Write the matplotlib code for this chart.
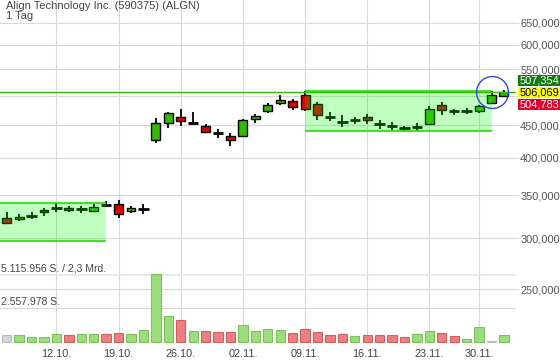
import math
import matplotlib
matplotlib.use('Agg')
import matplotlib.pyplot as plt
from matplotlib.patches import Rectangle
from matplotlib.ticker import FixedLocator, NullLocator, FuncFormatter
import matplotlib.transforms as mtransforms

plt.rcParams['font.family'] = ['Liberation Sans', 'DejaVu Sans']

# ---------------- data ----------------
title = "Align Technology Inc. (590375) (ALGN)"
period = "1 Tag"

dates = ['06.10.', '07.10.', '08.10.', '09.10.', '12.10.', '13.10.', '14.10.', '15.10.', '16.10.',
         '19.10.', '20.10.', '21.10.', '22.10.', '23.10.', '26.10.', '27.10.', '28.10.', '29.10.',
         '30.10.', '02.11.', '03.11.', '04.11.', '05.11.', '06.11.', '09.11.', '10.11.', '11.11.',
         '12.11.', '13.11.', '16.11.', '17.11.', '18.11.', '19.11.', '20.11.', '23.11.', '24.11.',
         '25.11.', '27.11.', '30.11.', '01.12.', '02.12.']

opens = [322.2, 321.1, 325.2, 332.0, 334.7, 334.0, 332.8, 330.4, 337.6, 338.8, 330.8, 332.8,
         426.1, 452.9, 462.7, 453.9, 448.6, 437.1, 432.3, 433.2, 460.4, 473.9, 487.6, 490.6,
         500.9, 484.8, 463.2, 455.5, 458.8, 462.7, 451.3, 448.0, 444.6, 446.5, 452.3, 483.1,
         472.8, 473.9, 473.9, 487.1, 498.9]
closes = [316.5, 323.7, 325.2, 329.6, 334.7, 331.6, 332.8, 335.5, 337.6, 326.8, 334.0, 332.8,
          452.9, 469.4, 456.2, 453.9, 439.5, 437.1, 427.1, 458.3, 464.9, 483.6, 491.8, 480.2,
          477.2, 466.6, 463.2, 455.5, 458.8, 458.3, 451.3, 448.0, 444.6, 446.5, 476.8, 475.5,
          472.8, 473.9, 481.3, 501.8, 506.069]
highs = [329.2, 327.2, 329.2, 334.0, 340.0, 337.1, 336.7, 338.8, 342.8, 344.0, 337.1, 338.8,
         461.1, 472.2, 476.2, 471.1, 451.8, 443.7, 437.4, 460.0, 468.3, 487.1, 500.7, 494.1,
         508.5, 488.3, 471.1, 466.6, 463.8, 467.7, 458.3, 454.5, 449.0, 453.4, 481.3, 488.8,
         477.2, 478.5, 484.1, 508.0, 510.9]
lows = [315.4, 319.1, 321.1, 325.2, 329.9, 329.2, 328.8, 329.2, 335.5, 322.2, 328.0, 326.8,
        422.5, 444.8, 448.6, 451.3, 438.5, 429.3, 417.1, 430.7, 453.4, 470.0, 484.1, 475.5,
        474.1, 458.3, 456.7, 447.4, 451.3, 451.3, 443.7, 442.2, 440.1, 440.1, 449.7, 467.1,
        467.1, 468.3, 470.0, 485.4, 497.1]

volumes = [529000, 484000, 333000, 355000, 582000, 506000, 559000, 605000, 559000, 657000,
           559000, 861000, 5115956, 1965000, 1617000, 786000, 786000, 756000, 756000, 1239000,
           786000, 937000, 861000, 657000, 937000, 733000, 529000, 605000, 408000, 484000,
           506000, 506000, 378000, 559000, 809000, 635000, 408000, 204000, 1088000, 20000, 529000]
vol_dir = ['flat', 'up', 'up', 'up', 'up', 'down', 'up', 'up', 'down', 'down',
           'up', 'up', 'up', 'up', 'down', 'up', 'down', 'down', 'down', 'up',
           'up', 'up', 'up', 'down', 'down', 'down', 'down', 'down', 'up', 'down',
           'down', 'down', 'down', 'up', 'up', 'down', 'down', 'up', 'up', 'flat', 'up']
vol_max = 5115956
vol_max_label = "5.115.956 S. / 2,3 Mrd."
vol_half_label = "2.557.978 S."

week_labels = ['12.10.', '19.10.', '26.10.', '02.11.', '09.11.', '16.11.', '23.11.', '30.11.']
price_ticks = [250, 300, 350, 400, 450, 500, 550, 600, 650]

# zones (start index, end index, low price, high price)
zone1 = (-1.0, 8, 297.0, 340.7)
zone2 = (24, 39, 440.6, 508.5)

ask_price = 507.354
last_price = 506.069
bid_price = 504.783
marked_index = 39

# ---------------- style ----------------
W, H = 560, 362
GREEN = '#36b800'
RED = '#dd0000'
GRID = '#d8d8d8'
TXT = '#444444'

fig = plt.figure(figsize=(W / 100, H / 100), dpi=100)
fig.patch.set_facecolor('white')

plot_bottom_px = 341.7
rect_price = [0, (H - plot_bottom_px) / H, 516 / W, plot_bottom_px / H]
rect_vol = [0, (H - plot_bottom_px) / H, 516 / W, 67.7 / H]

ax = fig.add_axes(rect_price)
ax.set_zorder(1)
ax.patch.set_alpha(0)
ax.set_yscale('log')
ax.set_xlim(-0.54, 40.97)
ax.set_ylim(207.0, 704.6)
for s in ax.spines.values():
    s.set_visible(False)

x = list(range(len(dates)))


def price_fmt(v, pos):
    # labels hidden behind the price tags are left out
    if abs(math.log(v / last_price)) < 0.03:
        return ''
    return f"{v:.3f}".replace('.', ',')


# grid
tick_idx = [dates.index(d) for d in week_labels]
ax.xaxis.set_major_locator(FixedLocator(tick_idx))
ax.set_xticklabels(week_labels)
ax.yaxis.set_major_locator(FixedLocator(price_ticks))
ax.yaxis.set_minor_locator(NullLocator())
ax.yaxis.set_major_formatter(FuncFormatter(price_fmt))
ax.yaxis.tick_right()
ax.tick_params(axis='x', length=0, pad=5, labelsize=7.8, labelcolor=TXT)
ax.tick_params(axis='y', length=2.4, color=GRID, pad=0.6, labelsize=7.9, labelcolor='#555555')
ax.grid(True, color=GRID, lw=0.8, zorder=0)
ax.set_axisbelow(True)

# candles
bw = 0.72
for i in x:
    o, h, l, c = opens[i], highs[i], lows[i], closes[i]
    ax.vlines(i, l, h, color='black', lw=1.3, zorder=3)
    if c == o:
        ax.hlines(c, i - 0.42, i + 0.42, color='black', lw=2.0, zorder=3)
    else:
        col = GREEN if c > o else RED
        ax.bar(i, abs(c - o), bottom=min(o, c), width=bw, color=col,
               edgecolor='black', lw=1.0, zorder=4)

# zones
for (x0, x1, lo, hi) in (zone1, zone2):
    ax.add_patch(Rectangle((x0, lo), x1 - x0, hi - lo, facecolor='#00ff00',
                           alpha=0.25, edgecolor='none', zorder=5))
    ax.hlines([lo, hi], x0, x1, color='#22dd00', lw=1.2, zorder=5)

# last price line
ax.axhline(last_price, color=GREEN, lw=1.0, zorder=6)

# marker circle
ax.plot(marked_index, last_price, marker='o', markersize=23, mfc='none',
        mec='#3344dd', mew=1.0, zorder=7)

# ---------------- volume ----------------
axv = fig.add_axes(rect_vol)
axv.set_zorder(2)
axv.patch.set_alpha(0)
axv.set_xlim(-0.54, 40.97)
axv.set_ylim(0, vol_max)
axv.axis('off')
vcols = {'up': ('#9ddc7f', '#7cc25c'), 'down': ('#ec8080', '#d06060'), 'flat': ('#d6d6d6', '#bbbbbb')}
for i in x:
    fc, ec = vcols[vol_dir[i]]
    axv.bar(i, volumes[i], width=0.75, color=fc, edgecolor=ec, lw=0.8, clip_on=False, zorder=3)
axv.axhline(vol_max, color='#e6e6e6', lw=1.8, zorder=1)
axv.axhline(vol_max / 2, color=GRID, lw=0.8, zorder=1)
tr = mtransforms.blended_transform_factory(axv.transAxes, axv.transData)
off = mtransforms.offset_copy(tr, fig=fig, x=0, y=2.5, units='dots')
axv.text(0.002, vol_max, vol_max_label, transform=off, fontsize=7.5, color=TXT, va='baseline', ha='left')
axv.text(0.002, vol_max / 2, vol_half_label, transform=off, fontsize=7.5, color=TXT, va='baseline', ha='left')

# ---------------- titles ----------------
fig.text(5.5 / W, 1 - 0.8 / H, title, fontsize=8.0, color=TXT, va='top', ha='left')
fig.text(5.5 / W, 1 - 11.3 / H, period, fontsize=8.0, color=TXT, va='top', ha='left')

# ---------------- price tags ----------------
y_last = ax.transData.transform((0, last_price))[1]
tags = [(ask_price, +12.2, '#147a14', 'white'),
        (last_price, 0.0, '#ffff00', 'black'),
        (bid_price, -12.2, '#e0002a', 'white')]
for val, dy, bg, fg in tags:
    yc = y_last + dy
    fig.add_artist(Rectangle((518 / W, (yc - 5.6) / H), 42 / W, 11.2 / H,
                             transform=fig.transFigure, facecolor=bg, edgecolor='none', zorder=10))
    fig.text(520 / W, yc / H, f"{val:.3f}".replace('.', ','), fontsize=7.9, color=fg,
             va='center', ha='left', zorder=11)

fig.savefig('out.png', dpi=100)
